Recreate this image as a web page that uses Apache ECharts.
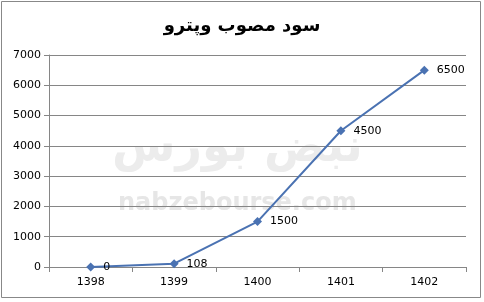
<!DOCTYPE html>
<html><head><meta charset="utf-8">
<script src="https://cdn.jsdelivr.net/npm/echarts@6/dist/echarts.min.js"></script>
<style>html,body{margin:0;padding:0;background:#fff}#c{width:484px;height:302px}</style>
</head><body><div id="c"></div>
<script>
const titleText = 'سود مصوب وپترو';
const categories = ['1398', '1399', '1400', '1401', '1402'];
const values = [0, 108, 1500, 4500, 6500];
const yTicks = [0, 1000, 2000, 3000, 4000, 5000, 6000, 7000];

const chart = echarts.init(document.getElementById('c'), null, {renderer: 'canvas'});
chart.setOption({
  animation: false,
  backgroundColor: '#fff',
  title: {
    text: titleText, left: 'center', top: 12,
    textStyle: {fontFamily: 'DejaVu Sans', fontWeight: 'bold', fontSize: 18, color: '#000'}
  },
  graphic: [
    {type: 'rect', shape: {x: 1.5, y: 1.5, width: 479, height: 296}, style: {fill: 'none', stroke: '#888', lineWidth: 1}, z: 0, silent: true},
    {type: 'text', left: 112, top: 126, style: {text: 'نبض بورس', font: 'bold 46px DejaVu Sans', fill: '#ececec'}, z: 0, silent: true},
    {type: 'text', left: 118, top: 192, style: {text: 'nabzebourse.com', font: 'bold 24px DejaVu Sans', fill: '#e6e6e6'}, z: 0, silent: true}
  ],
  grid: {left: 49, right: 18, top: 55, bottom: 35},
  xAxis: {
    type: 'category', data: categories, boundaryGap: true,
    axisLine: {lineStyle: {color: '#868686'}},
    axisTick: {show: true, length: 5, lineStyle: {color: '#868686'}},
    axisLabel: {color: '#000', fontSize: 11, fontFamily: 'DejaVu Sans', margin: 10}
  },
  yAxis: {
    type: 'value', min: yTicks[0], max: yTicks[yTicks.length - 1], interval: 1000,
    axisLine: {show: true, lineStyle: {color: '#868686'}},
    axisTick: {show: true, length: 5, lineStyle: {color: '#868686'}},
    splitLine: {lineStyle: {color: '#868686'}},
    axisLabel: {color: '#000', fontSize: 11, fontFamily: 'DejaVu Sans', margin: 8, formatter: v => String(v)}
  },
  series: [{
    type: 'line', data: values,
    symbol: 'diamond', symbolSize: 9,
    lineStyle: {color: '#4a72b2', width: 2},
    itemStyle: {color: '#4a72b2'},
    label: {show: true, position: 'right', distance: 8, color: '#000', fontSize: 11, fontFamily: 'DejaVu Sans'}
  }]
});
</script></body></html>
